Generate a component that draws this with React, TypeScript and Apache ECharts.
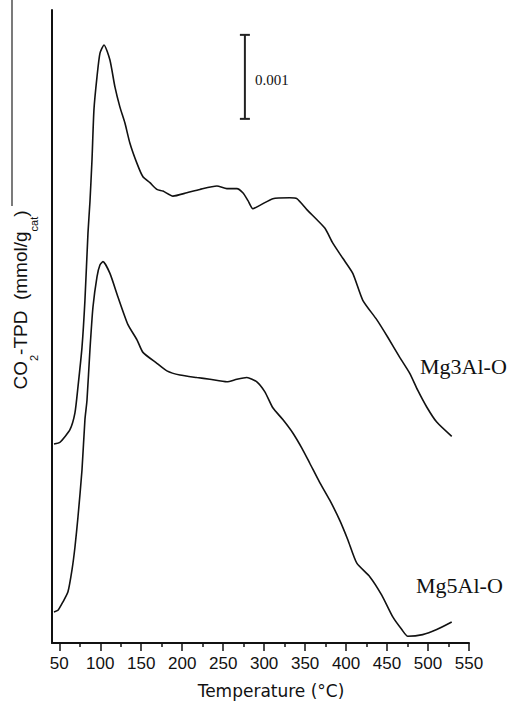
import React, { useEffect, useRef } from "react";
import * as echarts from "echarts";

// Temperature axis ticks (°C)
const majorTicks = [50, 100, 150, 200, 250, 300, 350, 400, 450, 500, 550];
const minorTicks = [75, 125, 175, 225, 275, 325, 375, 425, 475, 525];

// CO2 desorption signal, in units of 0.001 mmol/g_cat (curves are offset vertically)
const mg3Temp = [43.5, 50.9, 63.0, 69.1, 72.8, 77.7, 81.3, 85.0, 87.4, 89.9, 92.3, 96.0, 99.6, 104.6, 111.8, 117.9, 124.0, 130.1, 136.2, 144.8, 152.1, 160.6, 169.1, 176.5, 188.7, 205.7, 221.6, 242.3, 254.5, 266.7, 274.0, 280.1, 286.2, 294.8, 310.6, 331.3, 339.9, 352.1, 374.0, 383.8, 396.0, 408.2, 420.4, 437.4, 450.9, 465.5, 477.7, 487.4, 498.4, 510.6, 528.9];
const mg3Signal = [2.37, 2.39, 2.54, 2.74, 3.05, 3.52, 4.08, 4.88, 5.25, 5.75, 6.35, 6.74, 7.02, 7.12, 6.94, 6.62, 6.38, 6.19, 5.95, 5.71, 5.55, 5.48, 5.40, 5.38, 5.32, 5.36, 5.40, 5.44, 5.41, 5.41, 5.36, 5.27, 5.17, 5.21, 5.29, 5.30, 5.29, 5.16, 4.94, 4.76, 4.58, 4.40, 4.08, 3.85, 3.64, 3.40, 3.21, 3.01, 2.81, 2.63, 2.46];

const mg5Temp = [43.5, 48.4, 54.5, 60.6, 65.5, 69.1, 72.8, 77.7, 81.3, 83.8, 87.4, 91.1, 96.0, 99.6, 103.3, 111.8, 121.6, 133.8, 144.8, 152.1, 169.1, 181.3, 197.2, 217.9, 233.8, 254.5, 266.7, 278.9, 291.1, 300.9, 310.6, 322.8, 335.0, 346.0, 355.7, 367.9, 380.1, 392.3, 402.1, 413.1, 428.9, 443.5, 457.0, 468.0, 475.3, 493.5, 510.6, 528.9];
const mg5Signal = [0.37, 0.39, 0.49, 0.61, 0.87, 1.14, 1.50, 2.06, 2.66, 2.89, 3.49, 4.00, 4.36, 4.50, 4.54, 4.40, 4.12, 3.79, 3.61, 3.46, 3.33, 3.24, 3.19, 3.16, 3.14, 3.11, 3.14, 3.16, 3.11, 2.99, 2.80, 2.66, 2.50, 2.32, 2.14, 1.91, 1.70, 1.46, 1.23, 0.95, 0.79, 0.57, 0.31, 0.16, 0.08, 0.10, 0.16, 0.25];

// Scale bar: 1 unit = 0.001 mmol/g_cat
const scaleBarTemp = 276.5;
const scaleBarFrom = 6.24;
const scaleBarTo = 7.24;
const scaleBarText = "0.001";

const sampleNames = ["Mg3Al-O", "Mg5Al-O"];

const X_MIN = 41.1;
const X_MAX = 550;
const Y_MAX = 7.536;
const INK = "#111";

const gridBox = { left: 52, right: 42, top: 10, bottom: 59 };

export default function App() {
  const ref = useRef<HTMLDivElement>(null);

  useEffect(() => {
    const chart = echarts.init(ref.current!, null, { renderer: "svg" });

    const toPairs = (t: number[], v: number[]) => t.map((x, i) => [x, v[i]]);

    const curve = (name: string, t: number[], v: number[]) => ({
      name,
      type: "line",
      xAxisIndex: 0,
      yAxisIndex: 0,
      data: toPairs(t, v),
      showSymbol: false,
      smooth: 0.2,
      lineStyle: { color: INK, width: 1.6 },
    });

    chart.setOption({
      animation: false,
      backgroundColor: "#fff",
      grid: [
        { ...gridBox },
        { ...gridBox },
      ],
      xAxis: [
        {
          type: "value",
          gridIndex: 0,
          min: X_MIN,
          max: X_MAX,
          axisLine: { show: true, lineStyle: { color: INK, width: 2 } },
          axisTick: { show: true, customValues: majorTicks, length: 8, lineStyle: { color: INK, width: 1.5 } },
          axisLabel: {
            customValues: majorTicks,
            fontSize: 17,
            fontFamily: "Liberation Sans",
            color: INK,
            margin: 12,
          },
          splitLine: { show: false },
        },
        {
          type: "value",
          gridIndex: 1,
          min: X_MIN,
          max: X_MAX,
          axisLine: { show: false },
          axisTick: { show: true, customValues: minorTicks, length: 4, lineStyle: { color: INK, width: 1.5 } },
          axisLabel: { show: false },
          splitLine: { show: false },
        },
      ],
      yAxis: [
        {
          type: "value",
          gridIndex: 0,
          min: 0,
          max: Y_MAX,
          axisLine: { show: true, lineStyle: { color: INK, width: 2 } },
          axisTick: { show: false },
          axisLabel: { show: false },
          splitLine: { show: false },
        },
        {
          type: "value",
          gridIndex: 1,
          min: 0,
          max: Y_MAX,
          show: false,
        },
      ],
      series: [
        curve(sampleNames[0], mg3Temp, mg3Signal),
        curve(sampleNames[1], mg5Temp, mg5Signal),
        {
          type: "custom",
          xAxisIndex: 0,
          yAxisIndex: 0,
          data: [[scaleBarTemp, scaleBarFrom, scaleBarTo]],
          renderItem: (_params: any, api: any) => {
            const bottom = api.coord([api.value(0), api.value(1)]);
            const top = api.coord([api.value(0), api.value(2)]);
            const cap = 5;
            const stroke = { stroke: "#222", lineWidth: 2 };
            return {
              type: "group",
              children: [
                { type: "line", shape: { x1: top[0], y1: top[1], x2: bottom[0], y2: bottom[1] }, style: stroke },
                { type: "line", shape: { x1: top[0] - cap, y1: top[1], x2: top[0] + cap, y2: top[1] }, style: stroke },
                { type: "line", shape: { x1: bottom[0] - cap, y1: bottom[1], x2: bottom[0] + cap, y2: bottom[1] }, style: stroke },
                {
                  type: "text",
                  x: top[0] + 10,
                  y: (top[1] + bottom[1]) / 2 + 3,
                  style: {
                    text: scaleBarText,
                    fill: "#111",
                    font: "15px 'Liberation Serif'",
                    align: "left",
                    verticalAlign: "middle",
                  },
                },
              ],
            };
          },
        },
      ],
      graphic: [
        {
          type: "line",
          shape: { x1: 12, y1: 0, x2: 12, y2: 206 },
          style: { stroke: "#222", lineWidth: 1.2 },
        },
        {
          type: "text",
          x: 20,
          y: 300,
          rotation: Math.PI / 2,
          style: {
            text: "CO{sub|2}-TPD  (mmol/g{sub|cat})",
            fill: INK,
            font: "19px 'Liberation Sans'",
            fontSize: 19,
            fontFamily: "Liberation Sans",
            lineHeight: 38,
            align: "center",
            verticalAlign: "middle",
            rich: {
              sub: {
                fontSize: 11,
                fontFamily: "Liberation Sans",
                fill: INK,
                verticalAlign: "bottom",
              },
            },
          },
        },
        {
          type: "text",
          x: 271,
          y: 691,
          style: {
            text: "Temperature (\u00B0C)",
            fill: INK,
            font: "17px 'DejaVu Sans'",
            align: "center",
            verticalAlign: "middle",
          },
        },
        {
          type: "text",
          x: 420,
          y: 366,
          style: {
            text: sampleNames[0],
            fill: INK,
            font: "22px 'Liberation Serif'",
            align: "left",
            verticalAlign: "middle",
          },
        },
        {
          type: "text",
          x: 416,
          y: 585,
          style: {
            text: sampleNames[1],
            fill: INK,
            font: "22px 'Liberation Serif'",
            align: "left",
            verticalAlign: "middle",
          },
        },
      ],
    });

    return () => chart.dispose();
  }, []);

  return (
    <div
      ref={ref}
      style={{ position: "fixed", left: 0, top: 0, width: 511, height: 702 }}
    />
  );
}
